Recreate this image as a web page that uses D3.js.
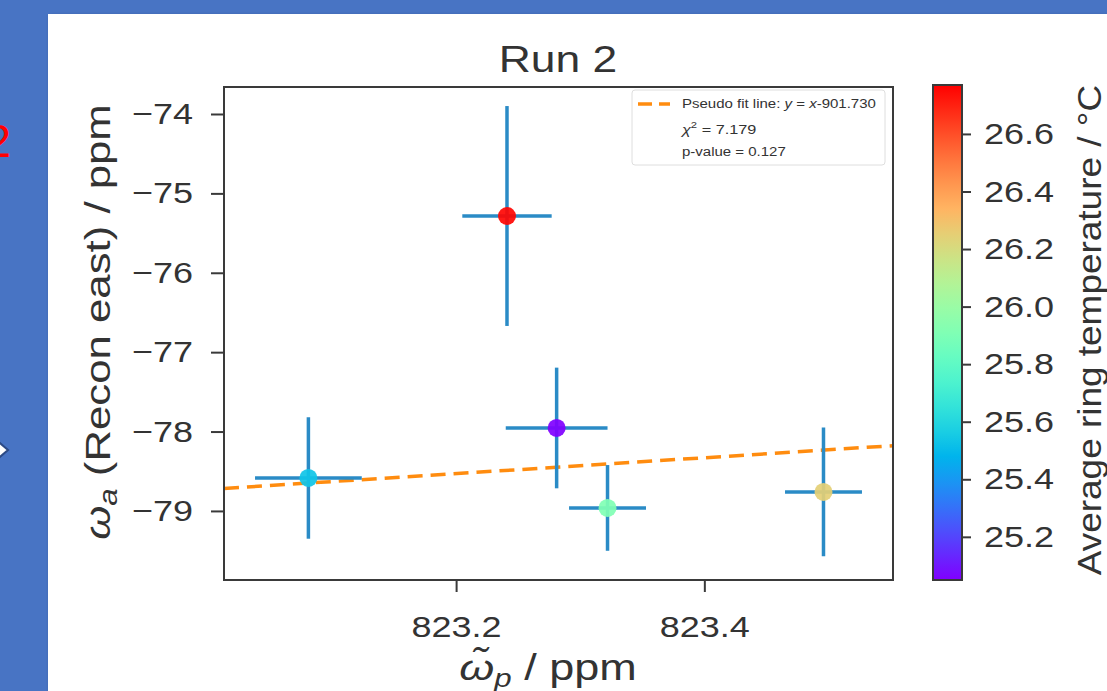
<!DOCTYPE html>
<html>
<head>
<meta charset="utf-8">
<title>Run 2</title>
<script src="https://d3js.org/d3.v7.min.js"></script>
<style>
  body { margin: 0; padding: 0; background: #4874c4; }
  text { font-family: "Liberation Sans", Arial, sans-serif; fill: #333; }
</style>
</head>
<body>
<div id="chart"></div>
<script>
// data
const xVals = [823.081, 823.241, 823.281, 823.322, 823.496];
const yVals = [-78.585, -75.285, -77.955, -78.962, -78.760];
const xErr  = [0.043, 0.036, 0.041, 0.031, 0.031];
const yErr  = [0.765, 1.385, 0.760, 0.540, 0.810];
const temps = [25.53, 26.76, 25.05, 25.91, 26.25];

const xTicks = [823.2, 823.4];
const yTicks = [-74, -75, -76, -77, -78, -79];
const cTicks = [25.2, 25.4, 25.6, 25.8, 26.0, 26.2, 26.4, 26.6];
const fitOffset = -901.730;

const width = 1107, height = 691;
const plot = { left: 224, right: 893, top: 87, bottom: 580 };
const cbar = { left: 933, right: 962, top: 85, bottom: 580 };
const sx = 1.2; // glyphs in the picture are a bit wider than Arial

// matplotlib "rainbow" colormap
function rainbow(t) {
  const c = v => Math.round(255 * Math.max(0, Math.min(1, v)));
  return d3.rgb(c(Math.abs(2 * t - 0.5)), c(Math.sin(Math.PI * t)), c(Math.cos(Math.PI * t / 2))).formatHex();
}

const svg = d3.select("#chart").append("svg")
  .attr("width", width).attr("height", height);

// slide background
const defs = svg.append("defs");
const shadow = defs.append("filter").attr("id", "shadow").attr("x", "-5%").attr("y", "-5%").attr("width", "110%").attr("height", "110%");
shadow.append("feDropShadow").attr("dx", 2).attr("dy", 2).attr("stdDeviation", 2).attr("flood-color", "#000").attr("flood-opacity", 0.35);

svg.append("rect").attr("width", width).attr("height", height).attr("fill", "#4874c4");
svg.append("text").attr("x", 11).attr("y", 157).attr("text-anchor", "end")
  .style("font-size", "46px").style("fill", "#ff0000").text("2");
svg.append("path").attr("d", "M-6,438 L8,450 L-6,462 Z")
  .attr("fill", "#fff").attr("stroke", "#2c4a85").attr("stroke-width", 2);
svg.append("rect").attr("x", 48).attr("y", 14).attr("width", width).attr("height", height)
  .attr("fill", "#fff").attr("filter", "url(#shadow)");

const x = d3.scaleLinear().domain([823.013, 823.552]).range([plot.left, plot.right]);
const y = d3.scaleLinear().domain([-79.87, -73.66]).range([plot.bottom, plot.top]);
const color = d3.scaleSequential(rainbow).domain([25.05, 26.77]);
const cy = d3.scaleLinear().domain([25.05, 26.77]).range([cbar.bottom, cbar.top]);

function label(g, tx, ty, rot, s) {
  return g.append("text").attr("transform", `translate(${tx},${ty}) rotate(${rot || 0}) scale(${s || sx},1)`);
}

// fit line (under the points)
const fitX = x.domain();
svg.append("line")
  .attr("x1", x(fitX[0])).attr("y1", y(fitX[0] + fitOffset))
  .attr("x2", x(fitX[1])).attr("y2", y(fitX[1] + fitOffset))
  .attr("stroke", "#ff8c0f").attr("stroke-width", 3.5).attr("stroke-dasharray", "15,8");

// error bars and points
const pts = xVals.map((v, i) => ({ x: v, y: yVals[i], ex: xErr[i], ey: yErr[i], t: temps[i] }));
const g = svg.append("g");
g.selectAll(".ey").data(pts).join("line")
  .attr("x1", d => x(d.x)).attr("x2", d => x(d.x))
  .attr("y1", d => y(d.y - d.ey)).attr("y2", d => y(d.y + d.ey))
  .attr("stroke", "#2a8bc6").attr("stroke-width", 3.5);
g.selectAll(".ex").data(pts).join("line")
  .attr("x1", d => x(d.x - d.ex)).attr("x2", d => x(d.x + d.ex))
  .attr("y1", d => y(d.y)).attr("y2", d => y(d.y))
  .attr("stroke", "#2a8bc6").attr("stroke-width", 3.5);
g.selectAll("circle").data(pts).join("circle")
  .attr("cx", d => x(d.x)).attr("cy", d => y(d.y)).attr("r", 9)
  .attr("fill", d => color(d.t)).attr("fill-opacity", 0.92);

// frame
svg.append("rect").attr("x", plot.left).attr("y", plot.top)
  .attr("width", plot.right - plot.left).attr("height", plot.bottom - plot.top)
  .attr("fill", "none").attr("stroke", "#3a3a3a").attr("stroke-width", 2);

// axes
const xAxis = svg.append("g").attr("transform", `translate(0,${plot.bottom})`)
  .call(d3.axisBottom(x).tickValues(xTicks).tickSize(12).tickPadding(6).tickFormat(d3.format(".1f")));
const yAxis = svg.append("g").attr("transform", `translate(${plot.left},0)`)
  .call(d3.axisLeft(y).tickValues(yTicks).tickSize(13).tickPadding(8).tickFormat(d => "\u2212" + Math.abs(d)));
[xAxis, yAxis].forEach(a => {
  a.select(".domain").remove();
  a.selectAll(".tick line").attr("stroke", "#3a3a3a").attr("stroke-width", 2);
  a.selectAll(".tick text").style("font-size", "30px").attr("fill", "#333")
    .style("font-family", "'Liberation Sans', Arial, sans-serif");
});
xAxis.selectAll(".tick text").attr("x", 0).attr("y", 0).attr("dy", 0)
  .attr("transform", `translate(0,57) scale(${sx},1)`);
yAxis.selectAll(".tick text").attr("transform", `translate(-31,0) scale(${sx},1)`).attr("x", 0);

// title and axis labels
label(svg, 558, 72).attr("text-anchor", "middle").style("font-size", "37px").text("Run 2");

const xl = label(svg, 548, 680, 0, 1.25).attr("text-anchor", "middle").style("font-size", "36px");
xl.append("tspan").style("font-style", "italic").text("\u03C9\u0303");
xl.append("tspan").style("font-style", "italic").style("font-size", "25px").attr("dy", 7).text("p");
xl.append("tspan").attr("dy", -7).text(" / ppm");

const yl = label(svg, 110, 322, -90, 1.25).attr("text-anchor", "middle").style("font-size", "35px");
yl.append("tspan").style("font-style", "italic").text("\u03C9");
yl.append("tspan").style("font-style", "italic").style("font-size", "25px").attr("dy", 7).text("a");
yl.append("tspan").attr("dy", -7).text(" (Recon east) / ppm");

// legend
const lg = svg.append("g");
lg.append("rect").attr("x", 632).attr("y", 90).attr("width", 253).attr("height", 75).attr("rx", 3)
  .attr("fill", "#fff").attr("fill-opacity", 0.8).attr("stroke", "#dedede");
lg.append("line").attr("x1", 638).attr("x2", 670).attr("y1", 104).attr("y2", 104)
  .attr("stroke", "#ff8c0f").attr("stroke-width", 3.5).attr("stroke-dasharray", "14,7");
const l1 = label(lg, 682, 108, 0, 1.25).style("font-size", "12px");
l1.append("tspan").text("Pseudo fit line: ");
l1.append("tspan").style("font-style", "italic").text("y");
l1.append("tspan").text(" = ");
l1.append("tspan").style("font-style", "italic").text("x");
l1.append("tspan").text("-901.730");
const l2 = label(lg, 682, 134, 0, 1.25).style("font-size", "13px");
l2.append("tspan").style("font-style", "italic").text("\u03C7");
l2.append("tspan").style("font-size", "9px").attr("dy", -6).text("2");
l2.append("tspan").attr("dy", 6).text(" = 7.179");
label(lg, 682, 156, 0, 1.25).style("font-size", "12px").text("p-value = 0.127");

// colorbar
const grad = defs.append("linearGradient").attr("id", "cbgrad")
  .attr("x1", 0).attr("y1", 1).attr("x2", 0).attr("y2", 0);
d3.range(0, 1.0001, 0.05).forEach(t => {
  grad.append("stop").attr("offset", t).attr("stop-color", rainbow(t));
});
svg.append("rect").attr("x", cbar.left).attr("y", cbar.top)
  .attr("width", cbar.right - cbar.left).attr("height", cbar.bottom - cbar.top)
  .attr("fill", "url(#cbgrad)").attr("stroke", "#3a3a3a").attr("stroke-width", 2);
const cAxis = svg.append("g").attr("transform", `translate(${cbar.right},0)`)
  .call(d3.axisRight(cy).tickValues(cTicks).tickSize(9).tickPadding(0).tickFormat(d3.format(".1f")));
cAxis.select(".domain").remove();
cAxis.selectAll(".tick line").attr("stroke", "#3a3a3a").attr("stroke-width", 2);
cAxis.selectAll(".tick text").style("font-size", "30px").attr("fill", "#333")
  .attr("x", 0).attr("transform", `translate(22,0) scale(${sx},1)`)
  .style("font-family", "'Liberation Sans', Arial, sans-serif");

label(svg, 1101, 330, -90, 1.12).attr("text-anchor", "middle").style("font-size", "33px")
  .text("Average ring temperature / \u00B0C");
</script>
</body>
</html>
